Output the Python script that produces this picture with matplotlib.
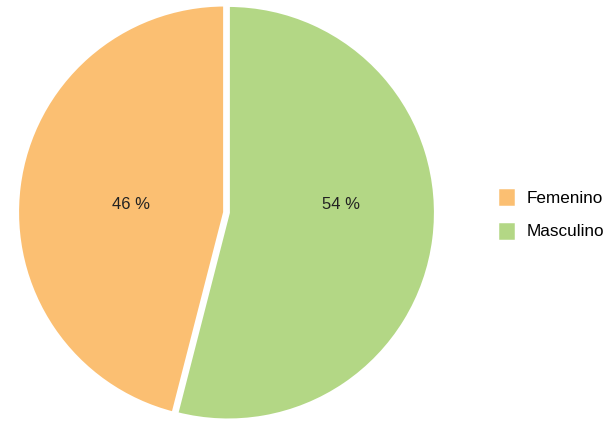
import matplotlib.pyplot as plt

labels = ['Femenino', 'Masculino']
values = [46, 54]
colors = ['#FBBF72', '#B3D785']

plt.rcParams['font.family'] = ['Liberation Sans', 'DejaVu Sans']

fig = plt.figure(figsize=(6.13, 4.28), dpi=100)
ax = fig.add_axes([19 / 613, 8 / 428, 415 / 613, 415 / 428])

wedges, texts, autotexts = ax.pie(values, colors=colors, startangle=90,
                                  counterclock=True, explode=[0.008, 0.008],
                                  autopct='%d %%', pctdistance=0.55,
                                  wedgeprops=dict(edgecolor='white', linewidth=2.5),
                                  textprops=dict(fontsize=12, color='#222222'))
# the reference puts both labels on one line, the left one a bit closer in
autotexts[0].set_x(autotexts[0].get_position()[0] * 0.83)
for t in autotexts:
    t.set_y(0.04)
ax.set_aspect('equal')
ax.set_xlim(-1.0, 1.0)
ax.set_ylim(-1.0, 1.0)

fig.legend(wedges, labels, loc='upper left', bbox_to_anchor=(497 / 613, 1 - 187 / 428),
           frameon=False, fontsize=12.3, handlelength=1.1, handleheight=1.45,
           labelspacing=0.78, handletextpad=0.65, borderpad=0, borderaxespad=0)

fig.savefig('out.png', dpi=100)
